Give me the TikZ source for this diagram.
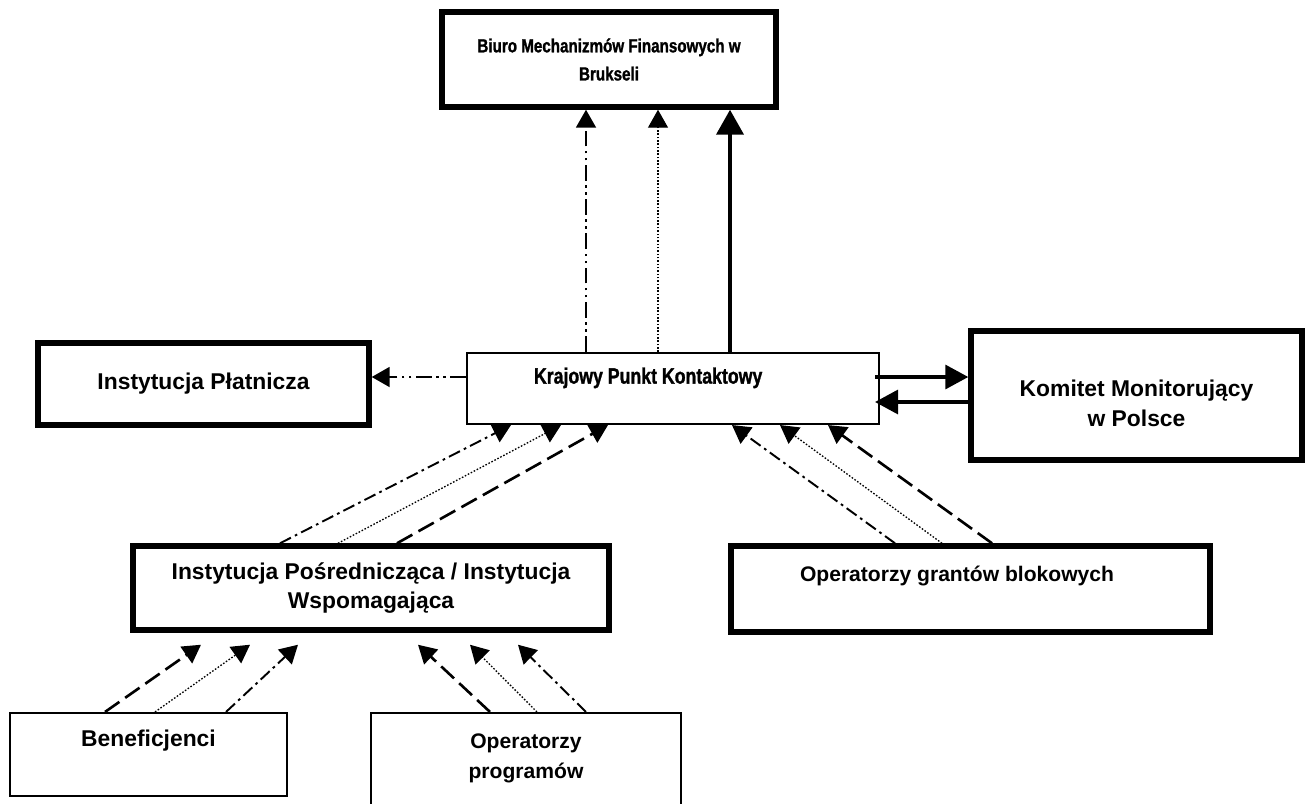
\documentclass[tikz,border=0pt]{standalone}
\usepackage{fontspec}
\setmainfont{Liberation Sans}
\newfontfamily\narrowfont{Liberation Sans}[FakeStretch=0.8, FakeBold=1.2]
\usetikzlibrary{arrows.meta}
\newcommand{\padbelow}[1]{\rule[-#1]{0pt}{#1}}
\newcommand{\padabove}[1]{\rule{0pt}{#1}}
\tikzset{
  every picture/.style={font=\bfseries\fontsize{13}{17}\selectfont},
  boxsize/.style 2 args={minimum width=#1*0.2mm, minimum height=#2*0.2mm},
  textsize/.style={font=\bfseries\fontsize{#1}{17}\selectfont},
  narrow/.style={font=\narrowfont\bfseries\fontsize{#1}{16}\selectfont},
  thickbox/.style={draw, fill=white, line width=3.1pt, align=center, inner sep=0pt},
  thinbox/.style={draw, fill=white, line width=1.2pt, align=center, inner sep=0pt},
  flow/.style={-{Triangle[length=3.6mm, width=4mm]}},
  mainline/.style={-{Triangle[length=5mm, width=5.4mm]}, line width=2.3pt},
  loopline/.style={-{Triangle[length=4.6mm, width=4.8mm]}, line width=1.9pt},
  dashline/.style={flow, line width=1.5pt, dash pattern=on 10pt off 4pt},
  dotline/.style={flow, line width=0.75pt, dash pattern=on 0.9pt off 1pt},
  dotdashline/.style={flow, line width=1.1pt, dash pattern=on 7pt off 2.5pt on 1.5pt off 2.5pt},
  dotdotdashline/.style={flow, line width=1.1pt, dash pattern=on 9pt off 2.5pt on 1.5pt off 2.5pt on 1.5pt off 2.5pt},
}

\begin{document}
\begin{tikzpicture}[x=0.2mm, y=-0.2mm]
  \useasboundingbox (0,0) rectangle (1305,803);
  \clip (0,0) rectangle (1305,803);
  % boxes
  \node[thickbox, narrow=10.8, boxsize={334}{95}] (bmf) at (609,59.5) {Biuro Mechanizmów Finansowych w\\Brukseli};
  \node[thickbox, boxsize={331}{82}] (ipl) at (203.5,384) {Instytucja Płatnicza};
  \node[thinbox, narrow=12.6, boxsize={412}{71}, align=flush left, text width=55.6mm] (kpk) at (673,388.5) {Krajowy Punkt Kontaktowy\padbelow{14.7pt}};
  \node[thickbox, boxsize={331}{129}] (kmp) at (1136.5,395.5) {\padabove{18.3pt}Komitet Monitorujący\\w Polsce};
  \node[thickbox, boxsize={476}{84}] (ipw) at (371,588) {Instytucja Pośrednicząca / Instytucja\\Wspomagająca};
  \node[thickbox, textsize=12, boxsize={479}{86}, align=flush left, text width=68.2mm] (ogb) at (970.5,589) {Operatorzy grantów blokowych\padbelow{17.2pt}};
  \node[thinbox, boxsize={277}{83}] (ben) at (148.5,754.5) {Beneficjenci\padbelow{18.1pt}};
  \node[thinbox, textsize=12, boxsize={310}{100}] (opr) at (526,763) {Operatorzy\\programów\padbelow{8.2pt}};
  % up to the office in Brussels
  \draw[dotdotdashline] (586,0 |- kpk.north) -- (586,0 |- bmf.south);
  \draw[dotline] (658,0 |- kpk.north) -- (658,0 |- bmf.south);
  \draw[mainline] (730,0 |- kpk.north) -- (730,0 |- bmf.south);
  \draw[dotdotdashline] (kpk.west |- 0,377) -- (ipl.east |- 0,377);
  % both ways with the committee
  \coordinate (kr1) at ([shift={(-5,-11.5)}]kpk.east);
  \coordinate (kr2) at ([shift={(-5,13.5)}]kpk.east);
  \draw[loopline] (kr1) -- (kr1 -| kmp.west);
  \draw[loopline] (kr2 -| kmp.west) -- (kr2);
  % reporting to the contact point
  \draw[dotdashline] (280,0 |- ipw.north) -- (511,0 |- kpk.south);
  \draw[dotline] (338,0 |- ipw.north) -- (561,0 |- kpk.south);
  \draw[dashline] (397,0 |- ipw.north) -- (608,0 |- kpk.south);
  \draw[dotdashline] (895,0 |- ogb.north) -- (732,0 |- kpk.south);
  \draw[dotline] (942,0 |- ogb.north) -- (780,0 |- kpk.south);
  \draw[dashline] (992,0 |- ogb.north) -- (828,0 |- kpk.south);
  % lowest level
  \coordinate (ipb) at ([yshift=-2.4mm]ipw.south);
  \draw[dashline] (105,0 |- ben.north) -- (201,0 |- ipb);
  \draw[dotline] (155,0 |- ben.north) -- (250,0 |- ipb);
  \draw[dotdashline] (226,0 |- ben.north) -- (298,0 |- ipb);
  \draw[dashline] (490,0 |- opr.north) -- (418,0 |- ipb);
  \draw[dotline] (537,0 |- opr.north) -- (470,0 |- ipb);
  \draw[dotdashline] (586,0 |- opr.north) -- (518,0 |- ipb);
\end{tikzpicture}
\end{document}
